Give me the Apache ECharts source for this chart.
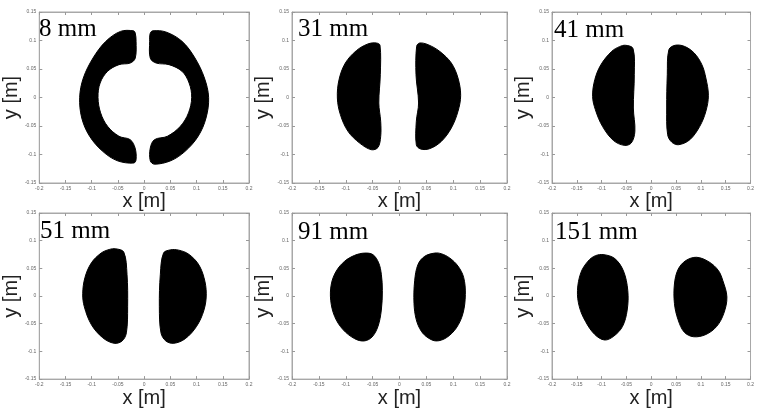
<!DOCTYPE html>
<html>
<head>
<meta charset="utf-8">
<script src="https://cdn.jsdelivr.net/npm/echarts@6/dist/echarts.min.js"></script>
<style>
html,body{margin:0;padding:0;background:#fff;}
#c{width:757px;height:409px;}
</style>
</head>
<body>
<div id="c"></div>
<script>
// Panel titles (distance in mm)
const panelTitles = ['8 mm', '31 mm', '41 mm', '51 mm', '91 mm', '151 mm'];
// Axis ticks
const xTicks = [-0.2, -0.15, -0.1, -0.05, 0, 0.05, 0.1, 0.15, 0.2];
const yTicks = [-0.15, -0.1, -0.05, 0, 0.05, 0.1, 0.15];
const xAxisName = 'x [m]';
const yAxisName = 'y [m]';

// Region outlines [x (m), y (m)]
const d8Left = [[-0.0204,0.117],[-0.045,0.116],[-0.073,0.0986],[-0.0975,0.0693],[-0.116,0.0342],[-0.123,0.0003],[-0.119,-0.036],[-0.104,-0.068],[-0.079,-0.0945],[-0.051,-0.111],[-0.020,-0.115],[-0.0154,-0.109],[-0.0173,-0.0886],[-0.0265,-0.074],[-0.048,-0.068],[-0.0697,-0.0506],[-0.083,-0.027],[-0.088,0],[-0.084,0.0254],[-0.0697,0.046],[-0.048,0.0576],[-0.0265,0.0605],[-0.017,0.069],[-0.0154,0.0986],[-0.017,0.113]];
const d8Right = [[0.0167,0.117],[0.0413,0.115],[0.0722,0.0986],[0.0969,0.0693],[0.115,0.0342],[0.123,0],[0.118,-0.036],[0.103,-0.068],[0.078,-0.0945],[0.0506,-0.111],[0.0197,-0.117],[0.0117,-0.111],[0.0117,-0.0886],[0.0197,-0.074],[0.0444,-0.068],[0.069,-0.0506],[0.0846,-0.027],[0.0907,0],[0.0858,0.0254],[0.0722,0.046],[0.0475,0.0576],[0.0228,0.0605],[0.0117,0.069],[0.0105,0.0986],[0.0117,0.113]];
const d31Left = [[-0.0431,0.0956],[-0.0363,0.0916],[-0.0357,0.040],[-0.0385,-0.0097],[-0.035,-0.0418],[-0.035,-0.0682],[-0.040,-0.0875],[-0.0524,-0.0916],[-0.0741,-0.080],[-0.0958,-0.0594],[-0.110,-0.030],[-0.1156,-0.0009],[-0.1125,0.0313],[-0.1007,0.0605],[-0.0803,0.0822],[-0.0586,0.094]];
const d31Right = [[0.0375,0.0956],[0.0319,0.0898],[0.0307,0.040],[0.0355,-0.0097],[0.0313,-0.0418],[0.0313,-0.0828],[0.0394,-0.0904],[0.056,-0.0898],[0.0778,-0.077],[0.0964,-0.0535],[0.1088,-0.0243],[0.1138,0.0038],[0.1088,0.0342],[0.0964,0.0605],[0.0747,0.081],[0.053,0.0927]];
const d41Left = [[-0.0516,0.0916],[-0.0367,0.0857],[-0.0342,0.040],[-0.0361,-0.0184],[-0.033,-0.0594],[-0.0404,-0.0799],[-0.0547,-0.0839],[-0.0765,-0.0752],[-0.0983,-0.0506],[-0.1126,-0.0214],[-0.1182,0.002],[-0.1138,0.0313],[-0.1014,0.0576],[-0.0796,0.081],[-0.064,0.0892]];
const d41Right = [[0.0479,0.0916],[0.0355,0.0839],[0.0323,0.040],[0.0311,-0.0184],[0.033,-0.0652],[0.0417,-0.0787],[0.0554,-0.0828],[0.0778,-0.074],[0.0977,-0.0506],[0.110,-0.0243],[0.1151,0.0038],[0.110,0.0342],[0.102,0.0576],[0.0865,0.078],[0.0666,0.0898]];
const d51Left = [[-0.0543,0.0853],[-0.0389,0.0794],[-0.0327,0.0394],[-0.0315,-0.0194],[-0.0339,-0.0664],[-0.042,-0.0811],[-0.0574,-0.0853],[-0.079,-0.0753],[-0.1006,-0.0517],[-0.1141,-0.0194],[-0.1172,0.0041],[-0.1129,0.0335],[-0.1006,0.06],[-0.0821,0.0776],[-0.0666,0.0841]];
const d51Right = [[0.0506,0.0835],[0.037,0.0776],[0.0309,0.0394],[0.029,-0.0194],[0.0321,-0.0664],[0.0413,-0.0811],[0.0568,-0.0853],[0.0784,-0.077],[0.100,-0.0547],[0.1141,-0.0253],[0.1185,0.0041],[0.1141,0.0335],[0.103,0.0582],[0.0845,0.0759],[0.066,0.0829]];
const d91Left = [[-0.0648,0.0776],[-0.0493,0.0747],[-0.0388,0.06],[-0.0338,0.0394],[-0.0319,0.01],[-0.0338,-0.0253],[-0.040,-0.0547],[-0.0512,-0.0741],[-0.066,-0.0811],[-0.0834,-0.077],[-0.1051,-0.0606],[-0.1206,-0.037],[-0.128,-0.0076],[-0.1268,0.0218],[-0.1175,0.0453],[-0.102,0.0629],[-0.0834,0.0735]];
const d91Right = [[0.0654,0.0776],[0.0468,0.0717],[0.0344,0.057],[0.0282,0.0276],[0.027,-0.0135],[0.0313,-0.043],[0.0406,-0.0635],[0.053,-0.0753],[0.0685,-0.0811],[0.0871,-0.0753],[0.1057,-0.0576],[0.1181,-0.0312],[0.1225,0.0029],[0.1194,0.0335],[0.1088,0.0541],[0.0933,0.0688],[0.0778,0.0764]];
const d151Left = [[-0.0952,0.0747],[-0.0734,0.0676],[-0.056,0.0453],[-0.0473,0.01],[-0.0485,-0.0253],[-0.0578,-0.0547],[-0.0753,-0.0723],[-0.0939,-0.0794],[-0.1138,-0.0694],[-0.1325,-0.0459],[-0.1449,-0.0194],[-0.1487,0.01],[-0.1418,0.0423],[-0.1275,0.0629],[-0.1126,0.0729]];
const d151Right = [[0.0914,0.07],[0.1163,0.0617],[0.135,0.0464],[0.1443,0.0276],[0.1524,-0.0018],[0.1462,-0.0312],[0.1319,-0.0547],[0.1101,-0.0694],[0.0852,-0.0735],[0.0666,-0.0653],[0.0541,-0.043],[0.0467,-0.0135],[0.0467,0.0218],[0.0541,0.0482],[0.0697,0.0641]];

const panelShapes = [[d8Left, d8Right],[d31Left, d31Right],[d41Left, d41Right],[d51Left, d51Right],[d91Left, d91Right],[d151Left, d151Right]];

// Layout (pixels)
const gridBoxes = [
  {left:33, top:12, width:216, height:171},
  {left:292, top:12, width:215, height:171},
  {left:552, top:12, width:215, height:171},
  {left:33, top:213, width:216, height:170},
  {left:292, top:213, width:215, height:170},
  {left:552, top:213, width:215, height:170}
];
const titlePos = [[39,17],[298,17],[554,18],[40,219],[298,220],[555,220]];

const fmt = v => String(+(+v).toFixed(2));
const tickStyle = {show:true, inside:true, length:3, lineStyle:{color:'#999'}};
const lineStyle = {show:true, onZero:false, lineStyle:{color:'#a8a8a8'}};
const grids = [], xAxes = [], yAxes = [], series = [], titles = [];
gridBoxes.forEach((g, i) => {
  grids.push(Object.assign({show:true, borderColor:'#a8a8a8', borderWidth:1, backgroundColor:'#fff'}, g));
  xAxes.push({
    type:'value', gridIndex:i, min:xTicks[0], max:xTicks[xTicks.length-1], interval:0.05,
    name:xAxisName, nameLocation:'middle', nameGap:2,
    nameTextStyle:{fontFamily:'Liberation Sans', fontSize:20, color:'#222', verticalAlign:'top'},
    axisLine:lineStyle, axisTick:tickStyle,
    axisLabel:{fontSize:5, color:'#666', margin:3, formatter:fmt},
    splitLine:{show:false}
  });
  yAxes.push({
    type:'value', gridIndex:i, min:yTicks[0], max:yTicks[yTicks.length-1], interval:0.05,
    name:yAxisName, nameLocation:'middle', nameGap:5,
    nameTextStyle:{fontFamily:'Liberation Sans', fontSize:20, color:'#222'},
    axisLine:lineStyle, axisTick:tickStyle,
    axisLabel:{fontSize:5, color:'#666', margin:3, formatter:fmt},
    splitLine:{show:false}
  });
  titles.push({
    text:panelTitles[i], left:titlePos[i][0], top:titlePos[i][1], padding:0,
    textStyle:{fontFamily:'Liberation Serif', fontWeight:'normal', fontSize:25, color:'#000'}
  });
  const shapes = panelShapes[i];
  series.push({
    type:'custom', xAxisIndex:i, yAxisIndex:i, coordinateSystem:'cartesian2d',
    data: shapes.map((s, k) => [s[0][0], s[0][1], k]),
    renderItem: (params, api) => {
      const pts = shapes[params.dataIndex].map(p => api.coord(p));
      return {type:'polygon', shape:{points:pts, smooth:0.35}, style:{fill:'#000', stroke:'#000', lineWidth:1}};
    },
    silent:true, animation:false
  });
});
// top / right box ticks
gridBoxes.forEach((g, i) => {
  xAxes.push({type:'value', gridIndex:i, position:'top', min:xTicks[0], max:xTicks[xTicks.length-1], interval:0.05,
    axisLine:lineStyle, axisTick:tickStyle, axisLabel:{show:false}, splitLine:{show:false}});
  yAxes.push({type:'value', gridIndex:i, position:'right', min:yTicks[0], max:yTicks[yTicks.length-1], interval:0.05,
    axisLine:lineStyle, axisTick:tickStyle, axisLabel:{show:false}, splitLine:{show:false}});
});

const chart = echarts.init(document.getElementById('c'), null, {renderer:'canvas'});
chart.setOption({
  backgroundColor:'#fff', animation:false,
  title:titles, grid:grids, xAxis:xAxes, yAxis:yAxes, series:series
});
</script>
</body>
</html>
